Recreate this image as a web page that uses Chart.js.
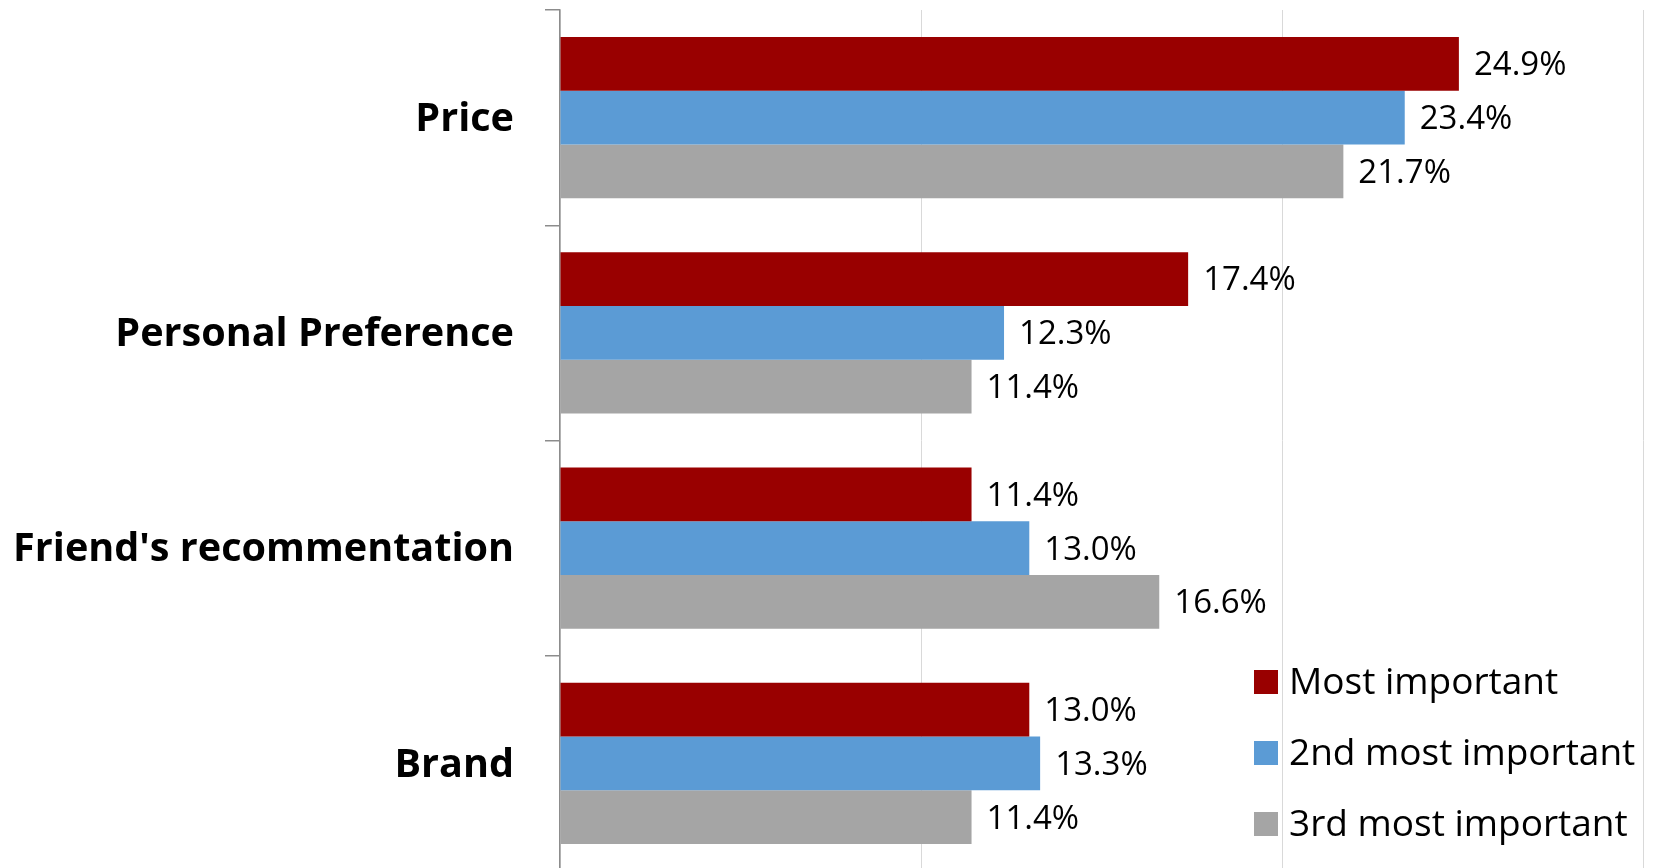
<!DOCTYPE html>
<html>
<head>
<meta charset="utf-8">
<script src="https://cdn.jsdelivr.net/npm/chart.js@4.4.1/dist/chart.umd.min.js"></script>
<style>
html,body{margin:0;padding:0;background:#fff;overflow:hidden;}
#wrap{width:1656px;height:868px;position:relative;overflow:hidden;}
</style>
</head>
<body>
<div id="wrap"><canvas id="c" width="1656" height="871"></canvas></div>
<script>
const categories = ["Price", "Personal Preference", "Friend's recommentation", "Brand"];
const seriesNames = ["Most important", "2nd most important", "3rd most important"];
const mostImportant = [24.9, 17.4, 11.4, 13.0];
const secondImportant = [23.4, 12.3, 13.0, 13.3];
const thirdImportant = [21.7, 11.4, 16.6, 11.4];
const seriesColors = ["#990000", "#5B9BD5", "#A5A5A5"];
const xTicks = [0, 10, 20, 30];

const FONT = "'Open Sans', 'Noto Sans', sans-serif";

const valueLabels = {
  id: 'valueLabels',
  afterDatasetsDraw(chart) {
    const ctx = chart.ctx;
    ctx.save();
    ctx.font = "33px " + FONT;
    ctx.fillStyle = "#000";
    ctx.textAlign = "left";
    ctx.textBaseline = "middle";
    chart.data.datasets.forEach((ds, i) => {
      const meta = chart.getDatasetMeta(i);
      meta.data.forEach((bar, j) => {
        ctx.fillText(ds.data[j].toFixed(1) + "%", bar.x + 15, bar.y + 2);
      });
    });
    ctx.restore();
  }
};

const insideLegend = {
  id: 'insideLegend',
  afterDraw(chart) {
    const ctx = chart.ctx;
    const ca = chart.chartArea;
    ctx.save();
    ctx.font = "37px " + FONT;
    ctx.textAlign = "left";
    ctx.textBaseline = "middle";
    const x0 = ca.right - 389;
    const yStart = 682;
    const gap = 71;
    chart.data.datasets.forEach((ds, i) => {
      const cy = yStart + i * gap;
      ctx.fillStyle = ds.backgroundColor;
      ctx.fillRect(x0, cy - 12, 24, 24);
      ctx.fillStyle = "#000";
      ctx.fillText(ds.label, x0 + 35, cy + 1);
    });
    ctx.restore();
  }
};

new Chart(document.getElementById('c'), {
  type: 'bar',
  data: {
    labels: categories,
    datasets: [
      { label: seriesNames[0], data: mostImportant, backgroundColor: seriesColors[0] },
      { label: seriesNames[1], data: secondImportant, backgroundColor: seriesColors[1] },
      { label: seriesNames[2], data: thirdImportant, backgroundColor: seriesColors[2] }
    ]
  },
  options: {
    indexAxis: 'y',
    responsive: false,
    animation: false,
    devicePixelRatio: 1,
    layout: { padding: { top: 10, right: 13, left: 0, bottom: 0 } },
    datasets: { bar: { categoryPercentage: 0.75, barPercentage: 1.0 } },
    plugins: {
      legend: { display: false },
      tooltip: { enabled: false }
    },
    scales: {
      x: {
        min: xTicks[0],
        max: xTicks[xTicks.length - 1],
        afterBuildTicks(scale) { scale.ticks = xTicks.map(v => ({ value: v })); },
        afterFit(scale) { scale.height = 0; scale.paddingLeft = 0; scale.paddingRight = 0; },
        ticks: { display: false },
        border: { display: false },
        grid: { color: "#D9D9D9", lineWidth: 1, drawTicks: false }
      },
      y: {
        afterFit(scale) { scale.width = 560; scale.paddingTop = 0; scale.paddingBottom = 0; },
        border: { display: true, color: "#8C8C8C", width: 1.5 },
        grid: {
          offset: true,
          drawOnChartArea: false,
          drawTicks: true,
          tickLength: 15,
          color: "#8C8C8C",
          lineWidth: 1.5
        },
        ticks: {
          color: "#000",
          padding: 31,
          labelOffset: 2,
          font: { family: FONT, size: 39.6, weight: 'bold' }
        }
      }
    }
  },
  plugins: [valueLabels, insideLegend]
});
</script>
</body>
</html>
